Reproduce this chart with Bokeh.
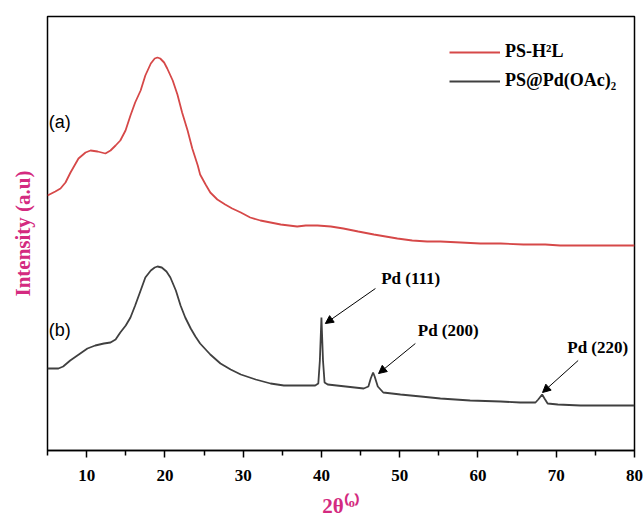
from bokeh.plotting import figure
from bokeh.models import Range1d, FixedTicker, Label, Arrow, NormalHead, Legend, LegendItem
from bokeh.embed import file_html
from bokeh.resources import INLINE

# ---------------- data ----------------
two_theta_a = [5.0, 6.0, 6.66, 7.3, 7.94, 8.96, 9.86, 10.5, 11.4, 12.4, 13.05, 13.7, 14.3, 14.97,
               15.6, 16.2, 16.9, 17.5, 18.2, 18.7, 19.05, 19.4, 19.9, 20.3, 21.0, 21.6, 22.2, 22.9,
               23.5, 24.2, 24.5, 25.2, 25.8, 26.7, 27.7, 28.6, 29.7, 30.9, 32.2, 33.5, 34.8, 36.9,
               38.0, 39.5, 41.2, 42.8, 44.7, 46.7, 48.2, 49.7, 51.6, 53.5, 55.2, 57.8, 60.3, 62.9,
               65.8, 68.6, 70.5, 73.1, 75.7, 78.2, 80.0]
intensity_a = [255, 259, 262, 268, 278, 292, 298, 300, 299, 297, 300, 305, 310, 320,
               335, 348, 360, 375, 387, 392, 393, 392, 388, 382, 370, 356, 338, 320,
               302, 285, 276, 266, 258, 251, 246, 242, 238, 233, 230, 228, 226, 224,
               225, 225, 224, 222, 219, 216, 214, 212, 210, 209, 209, 208, 207, 207,
               206, 206, 205, 205, 205, 205, 205]

two_theta_b = [5.0, 6.4, 7.0, 7.9, 9.0, 10.1, 11.1, 12.2, 13.05, 13.7, 14.3, 15.0, 15.6, 16.2,
               16.9, 17.5, 18.2, 18.7, 19.05, 19.6, 20.2, 20.7, 21.4, 22.0, 22.6, 23.3, 23.9, 24.5,
               25.8, 27.1, 28.4, 29.7, 31.6, 33.5, 35.2, 37.3, 39.2, 39.6, 39.8, 40.0, 40.2, 40.4,
               40.8, 43.1, 45.4, 46.0, 46.3, 46.6, 46.8, 47.2, 47.9, 50.1, 52.7, 55.2, 59.0, 62.9,
               65.4, 67.35, 67.7, 68.2, 68.5, 68.9, 70.2, 73.1, 75.7, 80.0]
intensity_b = [82, 82, 84, 90, 96, 102, 105, 107, 108, 111, 118, 125, 133, 145,
               160, 173, 180, 183, 184, 183, 179, 173, 160, 145, 133, 122, 114, 107,
               96, 87, 81, 76, 71, 67, 65, 65, 65, 67, 90, 133, 90, 68,
               66, 64, 62, 64, 72, 78, 74, 64, 58, 56, 54, 52, 50, 49,
               48, 48, 51, 56, 52, 47, 46, 45, 45, 45]

series_names = ["PS-H\u00b2L", "PS@Pd(OAc)\u2082"]
curve_tags = ["(a)", "(b)"]
x_ticks = [10, 20, 30, 40, 50, 60, 70, 80]
x_minor_ticks = [5, 15, 25, 35, 45, 55, 65, 75]
peak_labels = ["Pd (111)", "Pd (200)", "Pd (220)"]
peak_positions = [40.0, 46.6, 68.2]

# ---------------- styling / layout ----------------
RED = "#d64848"
DARK = "#404040"
MAGENTA = "#d42a80"
SERIF = "Liberation Serif"
SANS = "Liberation Sans"

p = figure(frame_width=587, frame_height=434, output_backend="svg", toolbar_location=None,
           x_range=Range1d(5, 80), y_range=Range1d(0, 434),
           min_border_left=47, min_border_right=10, min_border_top=16, min_border_bottom=71)
p.grid.visible = False
p.outline_line_color = "black"
p.outline_line_width = 1.5
p.background_fill_color = "white"
p.border_fill_color = "white"

r_a = p.line(two_theta_a, intensity_a, line_color=RED, line_width=1.8)
r_b = p.line(two_theta_b, intensity_b, line_color=DARK, line_width=1.8)

# x axis
xa = p.xaxis[0]
xa.ticker = FixedTicker(ticks=x_ticks, minor_ticks=x_minor_ticks)
xa.major_tick_in = 0
xa.major_tick_out = 7
xa.minor_tick_in = 0
xa.minor_tick_out = 5
xa.axis_line_width = 1.5
xa.major_tick_line_width = 1.5
xa.minor_tick_line_width = 1.5
xa.major_label_text_font = SERIF
xa.major_label_text_font_style = "bold"
xa.major_label_text_font_size = "17px"
xa.major_label_text_color = "black"
xa.major_label_standoff = 12
xa.axis_label = "2\u03b8\u207d\u1d52\u207e"
xa.axis_label_text_font = SERIF
xa.axis_label_text_font_style = "bold"
xa.axis_label_text_font_size = "21px"
xa.axis_label_text_color = MAGENTA
xa.axis_label_standoff = 10

# y axis: only the label
ya = p.yaxis[0]
ya.ticker = FixedTicker(ticks=[])
ya.major_tick_out = 0
ya.major_tick_in = 0
ya.minor_tick_out = 0
ya.minor_tick_in = 0
ya.axis_line_color = None
ya.axis_label = "Intensity (a.u)"
ya.axis_label_text_font = SERIF
ya.axis_label_text_font_style = "bold"
ya.axis_label_text_font_size = "21px"
ya.axis_label_text_color = MAGENTA
ya.axis_label_standoff = 13

# curve tags
tag_pos = [(5.15, 329), (5.15, 121)]
for tag, (tx, ty) in zip(curve_tags, tag_pos):
    p.add_layout(Label(x=tx, y=ty, text=tag, text_font=SANS, text_font_size="18px",
                       text_color="black", text_align="left", text_baseline="middle"))

# peak annotations
def nearest_intensity(pos):
    i = min(range(len(two_theta_b)), key=lambda k: abs(two_theta_b[k] - pos))
    return intensity_b[i]

arrow_tail = [(6.9, 29), (5.4, 29), (4.6, 34)]
arrow_tip = [(0.5, -6), (0.7, -1), (0.05, 2)]
text_off = [(11.4, 39), (9.6, 42), (7.1, 47)]
for lab, pos, (tdx, tdy), (hdx, hdy), (lx, ly) in zip(peak_labels, peak_positions,
                                                      arrow_tail, arrow_tip, text_off):
    pk = nearest_intensity(pos)
    p.add_layout(Arrow(x_start=pos + tdx, y_start=pk + tdy, x_end=pos + hdx, y_end=pk + hdy,
                       line_color="black", line_width=1,
                       end=NormalHead(size=8, fill_color="black", line_color="black")))
    p.add_layout(Label(x=pos + lx, y=pk + ly, text=lab, text_font=SERIF, text_font_style="bold",
                       text_font_size="17px", text_color="black", text_align="center",
                       text_baseline="middle"))

legend = Legend(items=[LegendItem(label=series_names[0], renderers=[r_a]),
                       LegendItem(label=series_names[1], renderers=[r_b])],
                location=(402, 359), padding=0, margin=0, spacing=8,
                glyph_width=51, glyph_height=20, label_height=20, label_standoff=5,
                label_text_font=SERIF, label_text_font_style="bold", label_text_font_size="18px",
                label_text_color="black", border_line_alpha=0, background_fill_alpha=0)
p.add_layout(legend, "center")

open("out.html", "w").write(file_html(p, INLINE))
